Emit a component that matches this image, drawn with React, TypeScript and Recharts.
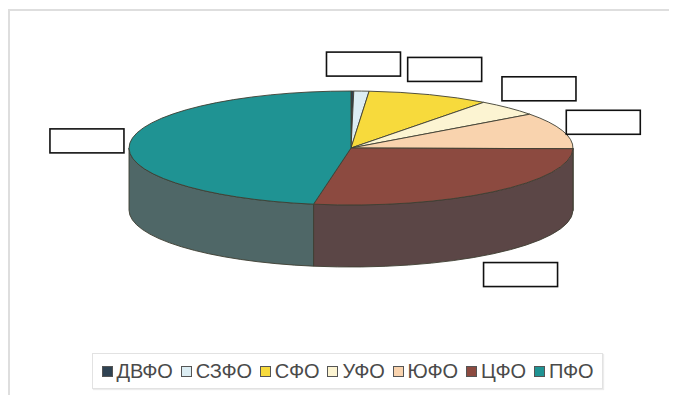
import { Cell, Legend, Pie, PieChart } from "recharts";

// share of each federal district, %
const regions = ["ДВФО", "СЗФО", "СФО", "УФО", "ЮФО", "ЦФО", "ПФО"];
const shares = [0.2, 1.1, 8.9, 4.7, 10.3, 27.5, 47.3];

const topColors = ["#2f4252", "#dcedf3", "#f7da3c", "#fcf4d2", "#f9d3ae", "#8c4a40", "#1f9393"];
const sideColors = ["#26333f", "#b4c3c8", "#c7ae2c", "#d0c8a8", "#cdac8c", "#5b4646", "#4f6767"];
// ДВФО gets no callout
const hasCallout = [false, true, true, true, true, true, true];

const data = regions.map((name, i) => ({ name, value: shares[i] }));

const W = 669;
const H = 387;
const TILT = 57 / 222;
const DEPTH = 62;
const RAD = Math.PI / 180;
const EDGE = "#3e3e32";

function Slice3D(props: any) {
  const { cx, cy, outerRadius, startAngle, endAngle, name } = props;
  const i = regions.indexOf(name);
  const rx = outerRadius;
  const ry = outerRadius * TILT;
  const pt = (a: number, dy = 0) =>
    `${cx + rx * Math.cos(a * RAD)},${cy - ry * Math.sin(a * RAD) + dy}`;

  const span = Math.abs(startAngle - endAngle);
  const large = span > 180 ? 1 : 0;
  const top = `M${cx},${cy} L${pt(startAngle)} A${rx},${ry} 0 ${large} 1 ${pt(endAngle)} Z`;

  // only the front half of the rim is visible
  const a1 = Math.min(startAngle, 0);
  const a2 = Math.max(endAngle, -180);
  let side: string | null = null;
  if (a1 > a2) {
    const l = a1 - a2 > 180 ? 1 : 0;
    side =
      `M${pt(a1)} A${rx},${ry} 0 ${l} 1 ${pt(a2)} ` +
      `L${pt(a2, DEPTH)} A${rx},${ry} 0 ${l} 0 ${pt(a1, DEPTH)} Z`;
  }

  return (
    <g>
      {side && <path d={side} fill={sideColors[i]} stroke={EDGE} strokeWidth={0.9} />}
      <path d={top} fill={topColors[i]} stroke={EDGE} strokeWidth={0.9} />
    </g>
  );
}

function CalloutBox(props: any) {
  const { cx, cy, outerRadius, midAngle, index } = props;
  if (!hasCallout[index]) return null;
  const s = Math.sin(midAngle * RAD);
  const x = cx + (outerRadius + 43) * Math.cos(midAngle * RAD);
  const y = cy - (outerRadius * TILT + 27) * s + (s < 0 ? DEPTH : 0);
  return (
    <rect x={x - 37} y={y - 12} width={74} height={24} fill="#fff" stroke="#111" strokeWidth={1.6} />
  );
}

function LegendRow({ payload }: any) {
  const items = [...(payload || [])].sort(
    (a: any, b: any) => regions.indexOf(a.value) - regions.indexOf(b.value)
  );
  return (
    <div
      style={{
        display: "flex",
        alignItems: "center",
        justifyContent: "center",
        gap: 8,
        width: 511,
        height: 36,
        border: "1px solid #e2e2e2",
        boxShadow: "1px 1px 1px #ececec",
        fontFamily: "'Liberation Sans', Arial, sans-serif",
        fontSize: 20,
        letterSpacing: -0.2,
        color: "#4a4a4a",
        boxSizing: "border-box",
      }}
    >
      {items.map((p: any) => {
        const i = regions.indexOf(p.value);
        return (
          <span key={p.value} style={{ display: "flex", alignItems: "center", gap: 4 }}>
            <span
              style={{
                width: 9,
                height: 9,
                background: topColors[i],
                border: "1.5px solid #555",
                display: "inline-block",
              }}
            />
            {p.value}
          </span>
        );
      })}
    </div>
  );
}

export default function App() {
  return (
    <div style={{ position: "relative", width: W, height: H, background: "#fff" }}>
      <div
        style={{
          position: "absolute",
          left: 0,
          top: 1,
          right: 0,
          bottom: 0,
          borderTop: "2px solid #dedede",
          borderLeft: "2px solid #dedede",
        }}
      />
      <PieChart width={W} height={H} margin={{ top: 0, right: 0, bottom: 0, left: 0 }}>
        <Pie
          data={data}
          dataKey="value"
          nameKey="name"
          cx={343}
          cy={140}
          outerRadius={222}
          startAngle={90}
          endAngle={-270}
          shape={Slice3D}
          label={CalloutBox}
          labelLine={false}
          isAnimationActive={false}
        >
          {data.map((d, i) => (
            <Cell key={d.name} fill={topColors[i]} />
          ))}
        </Pie>
        <Legend
          content={LegendRow}
          wrapperStyle={{ position: "absolute", left: 84, top: 345, width: 511, height: 36 }}
        />
      </PieChart>
    </div>
  );
}
